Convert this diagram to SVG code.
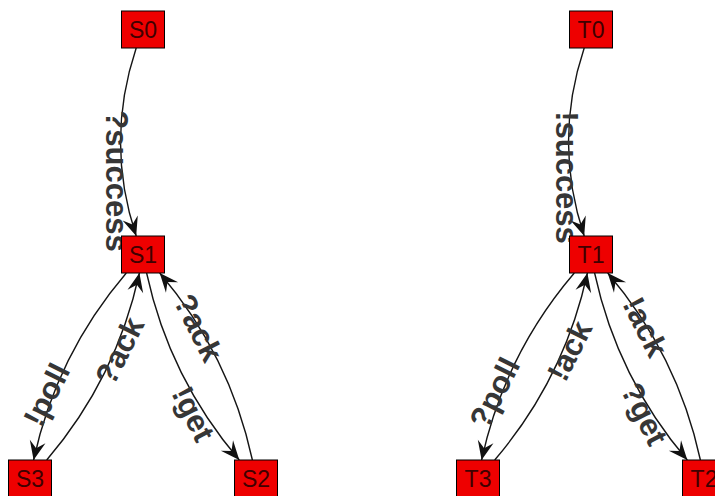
<svg xmlns="http://www.w3.org/2000/svg" width="715" height="496" viewBox="0 0 715 496">
  <style>
    .edge { fill: none; stroke: #151515; stroke-width: 1.4; marker-end: url(#arrow); }
    .elabel { font-family: "Liberation Sans", Arial, sans-serif; font-weight: bold; font-size: 31px; fill: #363636; text-anchor: middle; }
    .node rect { fill: #ee0000; stroke: #000; stroke-width: 1; }
    .node text { font-family: "Liberation Sans", Arial, sans-serif; font-size: 23px; fill: #400000; text-anchor: middle; }
  </style>
  <defs>
    <!-- notched arrowhead, tip at the path end -->
    <marker id="arrow" markerUnits="userSpaceOnUse" viewBox="-20 -9 21 18" refX="0" refY="0" markerWidth="21" markerHeight="18" orient="auto" overflow="visible">
      <path d="M0,0 L-19,-8 L-12,0 L-19,8 Z" fill="#111"/>
    </marker>
  </defs>
  <rect width="715" height="496" fill="#fff"/>

  <g id="connectors">
    <!-- left machine: S0..S3 -->
    <g id="e-S0-S1">
      <path class="edge" d="M136.2,48 Q104.8,142 136.2,236"/>
      <text class="elabel" transform="translate(114,181) rotate(90)" x="0" y="8">?success</text>
    </g>
    <g id="e-S1-S3">
      <path class="edge" d="M126.3,273 Q56.5,354.7 33.6,460"/>
      <text class="elabel" transform="translate(49,396) rotate(-63.2)" x="0" y="8">!poll</text>
    </g>
    <g id="e-S3-S1">
      <path class="edge" d="M46.7,460 Q116.5,378.3 139.4,273"/>
      <text class="elabel" transform="translate(122,352) rotate(-63.2)" x="0" y="8">?ack</text>
    </g>
    <g id="e-S1-S2">
      <path class="edge" d="M146.6,273 Q169.5,378.3 239.3,460"/>
      <text class="elabel" transform="translate(191,415) rotate(63.2)" x="0" y="8">!get</text>
    </g>
    <g id="e-S2-S1">
      <path class="edge" d="M252.4,460 Q229.5,354.7 159.7,273"/>
      <text class="elabel" transform="translate(196,329) rotate(63.2)" x="0" y="8">?ack</text>
    </g>

    <!-- right machine: T0..T3 -->
    <g id="e-T0-T1">
      <path class="edge" d="M584.2,48 Q552.8,142 584.2,236"/>
      <text class="elabel" transform="translate(564,177.5) rotate(90)" x="0" y="8">!success</text>
    </g>
    <g id="e-T1-T3">
      <path class="edge" d="M574.3,273 Q504.5,354.7 481.6,460"/>
      <text class="elabel" transform="translate(497,394) rotate(-63.2)" x="0" y="8">?poll</text>
    </g>
    <g id="e-T3-T1">
      <path class="edge" d="M494.7,460 Q564.5,378.3 587.4,273"/>
      <text class="elabel" transform="translate(572,352) rotate(-63.2)" x="0" y="8">!ack</text>
    </g>
    <g id="e-T1-T2">
      <path class="edge" d="M594.6,273 Q617.5,378.3 687.3,460"/>
      <text class="elabel" transform="translate(642,415) rotate(63.2)" x="0" y="8">?get</text>
    </g>
    <g id="e-T2-T1">
      <path class="edge" d="M700.4,460 Q677.5,354.7 607.7,273"/>
      <text class="elabel" transform="translate(643,328) rotate(63.2)" x="0" y="8">!ack</text>
    </g>
  </g>

  <g id="S0" class="node"><rect x="121.5" y="11" width="43" height="37"/><text x="143" y="37.7">S0</text></g>
  <g id="S1" class="node"><rect x="121.5" y="236" width="43" height="37"/><text x="143" y="262.7">S1</text></g>
  <g id="S3" class="node"><rect x="8.5" y="460" width="43" height="37"/><text x="30" y="486.7">S3</text></g>
  <g id="S2" class="node"><rect x="234.5" y="460" width="43" height="37"/><text x="256" y="486.7">S2</text></g>

  <g id="T0" class="node"><rect x="569.5" y="11" width="43" height="37"/><text x="591" y="37.7">T0</text></g>
  <g id="T1" class="node"><rect x="569.5" y="236" width="43" height="37"/><text x="591" y="262.7">T1</text></g>
  <g id="T3" class="node"><rect x="456.5" y="460" width="43" height="37"/><text x="478" y="486.7">T3</text></g>
  <g id="T2" class="node"><rect x="682.5" y="460" width="43" height="37"/><text x="704" y="486.7">T2</text></g>
</svg>
